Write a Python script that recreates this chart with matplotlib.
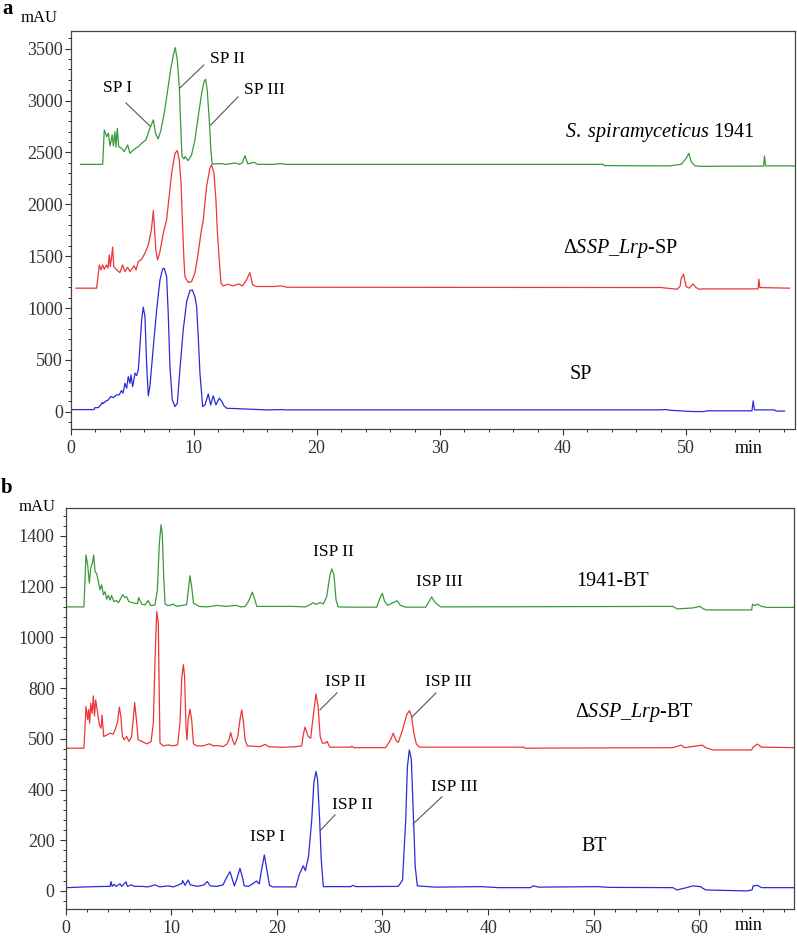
import matplotlib
matplotlib.use("Agg")
import matplotlib.pyplot as plt
from matplotlib.ticker import MultipleLocator

plt.rcParams['font.family'] = ['Liberation Serif', 'DejaVu Serif']
plt.rcParams['mathtext.fontset'] = 'custom'
plt.rcParams['mathtext.rm'] = 'Liberation Serif'
plt.rcParams['mathtext.it'] = 'Liberation Serif:italic'

#*****************************************
# Panel a : traces (time in min, signal in mAU)
#*****************************************
tGreenA = [0.8, 2.6, 2.73, 2.93, 3.06, 3.2, 3.38, 3.47, 3.6, 3.68, 3.79, 3.9, 4.14, 4.36, 4.63, 4.82,
           5.09, 5.5, 5.77, 6.12, 6.39, 6.72, 6.9, 7.1, 7.31, 7.58, 7.85, 8.12, 8.35, 8.5, 8.67, 8.83,
           8.94, 9.05, 9.21, 9.3, 9.56, 9.83, 10.1, 10.37, 10.65, 10.84, 10.97, 11.1, 11.27, 11.4, 11.5,
           12.3, 12.6, 13.4, 13.7, 13.95, 14.17, 14.4, 14.9, 15.2, 16.5, 17.1, 17.5, 43.3, 43.4, 48.7,
           49.65, 50.06, 50.27, 50.45, 50.73, 51.1, 56.34, 56.42, 56.5, 58.85]
vGreenA = [2385, 2385, 2717, 2652, 2685, 2563, 2669, 2563, 2700, 2550, 2733, 2556, 2540, 2508, 2572, 2492,
           2524, 2556, 2588, 2620, 2717, 2813, 2685, 2630, 2700, 2861, 3070, 3295, 3439, 3510, 3391, 3134,
           2781, 2460, 2437, 2460, 2421, 2476, 2620, 2845, 3070, 3182, 3205, 3102, 2813, 2524, 2389,
           2392, 2385, 2398, 2385, 2400, 2469, 2390, 2405, 2385, 2385, 2392, 2385, 2385, 2373, 2370,
           2386, 2444, 2492, 2412, 2373, 2366, 2368, 2466, 2370, 2370]

tRedA = [0.43, 2.11, 2.33, 2.46, 2.6, 2.73, 2.92, 3.03, 3.14, 3.22, 3.33, 3.41, 3.5, 3.74, 4.0, 4.22,
         4.41, 4.63, 4.82, 5.15, 5.31, 5.5, 5.77, 6.04, 6.31, 6.56, 6.72, 6.82, 6.92, 7.07, 7.26, 7.53,
         7.8, 8.21, 8.48, 8.67, 8.83, 8.97, 9.1, 9.21, 9.29, 9.56, 9.83, 10.1, 10.37, 10.59, 10.78, 11.05,
         11.32, 11.46, 11.65, 11.81, 11.92, 12.08, 12.22, 12.4, 12.81, 13.2, 13.66, 13.96, 14.3, 14.57,
         14.79, 15.12, 16.5, 17.1, 17.6, 48.0, 49.3, 49.55, 49.65, 49.84, 50.05, 50.3, 50.6, 50.85, 51.1,
         51.4, 55.9, 55.96, 56.04, 58.45]
vRedA = [1192, 1192, 1416, 1368, 1416, 1374, 1416, 1384, 1512, 1400, 1496, 1587, 1400, 1368, 1342, 1416,
         1352, 1394, 1352, 1407, 1368, 1448, 1471, 1529, 1609, 1753, 1939, 1753, 1561, 1464, 1544, 1722,
         1850, 2300, 2492, 2518, 2428, 2203, 1785, 1464, 1303, 1246, 1256, 1336, 1529, 1722, 1850, 2171,
         2348, 2380, 2300, 2042, 1753, 1464, 1240, 1214, 1230, 1214, 1233, 1214, 1272, 1342,
         1224, 1208, 1208, 1214, 1201, 1198, 1182, 1208, 1288, 1326, 1207, 1192, 1233, 1198, 1182,
         1185, 1185, 1278, 1198, 1192]

tBlueA = [0.08, 1.9, 1.98, 2.25, 2.44, 2.57, 2.65, 2.79, 3.06, 3.25, 3.47, 3.74, 3.95, 4.12, 4.26, 4.41,
          4.55, 4.68, 4.82, 4.9, 5.04, 5.23, 5.36, 5.5, 5.63, 5.77, 5.9, 6.04, 6.17, 6.31, 6.44, 6.72,
          6.99, 7.26, 7.47, 7.6, 7.8, 7.93, 8.07, 8.26, 8.48, 8.67, 8.88, 9.15, 9.43, 9.7, 9.89, 10.1,
          10.24, 10.37, 10.51, 10.73, 10.92, 11.19, 11.38, 11.59, 11.81, 12.08, 12.3, 12.45, 12.68, 13.77,
          15.9, 17.2, 17.4, 47.7, 48.4, 48.8, 50.6, 51.5, 51.7, 55.4, 55.5, 55.6, 57.2, 57.4, 58.05]
vBlueA = [22, 22, 41, 41, 67, 90, 80, 99, 116, 148, 138, 164, 164, 205, 180, 276,
          228, 340, 276, 356, 244, 373, 350, 405, 629, 886, 1009, 918, 469, 154, 244, 629,
          983, 1272, 1375, 1385, 1304, 951, 437, 116, 51, 83, 405, 790, 1063, 1169, 1175, 1111,
          1014, 725, 373, 51, 67, 173, 67, 154, 67, 132, 100, 60, 35, 30,
          19, 22, 19, 19, 22, 15, 3, 3, 10, 10, 106, 19, 19, 8, 8]

#*****************************************
# Panel b
#*****************************************
tGreenB = [0.03, 1.73, 1.92, 2.08, 2.24, 2.37, 2.53, 2.65, 2.78, 2.94, 3.1, 3.25, 3.41, 3.57, 3.72, 3.88,
           4.04, 4.2, 4.34, 4.56, 4.78, 5.0, 5.4, 5.6, 5.78, 5.97, 6.46, 6.8, 6.91, 7.2, 7.5, 7.82, 8.04,
           8.46, 8.68, 8.87, 9.03, 9.15, 9.28, 9.41, 9.72, 10.2, 10.5, 11.3, 11.45, 11.6, 11.77, 11.93,
           12.1, 12.4, 12.6, 13.4, 14.3, 15.2, 16.1, 16.6, 17.0, 17.3, 17.67, 17.9, 18.1, 19.6, 21.5,
           22.7, 23.1, 23.45, 23.7, 24.08, 24.4, 24.72, 25.03, 25.2, 25.4, 25.6, 25.8, 26.9, 29.45,
           29.76, 29.98, 30.2, 30.5, 30.8, 31.4, 31.7, 32.2, 34.1, 34.4, 34.65, 35.0, 35.5, 57.5, 57.9,
           59.4, 60.06, 60.4, 60.7, 64.96, 65.05, 65.25, 65.5, 65.9, 66.4, 69.0]
vGreenB = [1120, 1120, 1325, 1286, 1214, 1273, 1293, 1325, 1260, 1250, 1220, 1187, 1207, 1168, 1180, 1151,
           1165, 1147, 1165, 1141, 1145, 1137, 1168, 1157, 1160, 1141, 1135, 1133, 1157, 1131, 1128, 1145, 1125,
           1128, 1187, 1372, 1444, 1404, 1240, 1131, 1125, 1131, 1122, 1128, 1128, 1180, 1243, 1200,
           1135, 1128, 1122, 1120, 1126, 1122, 1126, 1120, 1122, 1141, 1178, 1150, 1122, 1122, 1122,
           1120, 1128, 1137, 1130, 1137, 1132, 1161, 1247, 1270, 1247, 1148, 1120, 1119, 1119,
           1155, 1174, 1142, 1126, 1133, 1144, 1126, 1119, 1119, 1141, 1159, 1137, 1120, 1122, 1112,
           1116, 1122, 1112, 1108, 1108, 1131, 1125, 1131, 1122, 1118, 1118]

tRedB = [0.03, 1.73, 1.92, 2.08, 2.17, 2.27, 2.37, 2.5, 2.62, 2.73, 2.84, 3.03, 3.19, 3.35, 3.44, 3.6,
         3.9, 4.2, 4.5, 4.72, 4.92, 5.08, 5.22, 5.37, 5.53, 5.77, 5.98, 6.22, 6.4, 6.53, 6.66, 6.87,
         7.24, 7.7, 8.08, 8.3, 8.46, 8.62, 8.77, 8.85, 8.93, 9.24, 9.72, 10.1, 10.6, 10.82, 10.98,
         11.14, 11.26, 11.39, 11.48, 11.6, 11.77, 11.93, 12.1, 12.4, 13.0, 13.6, 14.0, 14.5, 14.9,
         15.3, 15.5, 15.62, 15.8, 16.0, 16.3, 16.5, 16.67, 16.83, 16.99, 17.2, 18.4, 18.9, 19.2,
         20.5, 21.8, 22.35, 22.5, 22.66, 22.97, 23.2, 23.4, 23.7, 23.9, 24.1, 24.3, 24.6, 24.75,
         25.0, 27.0, 27.1, 27.3, 30.3, 30.77, 31.02, 31.3, 31.5, 31.9, 32.29, 32.54, 32.75, 32.97,
         33.2, 33.5, 43.4, 43.5, 57.5, 58.3, 58.6, 60.3, 60.6, 61.3, 64.96, 65.1, 65.5, 65.9, 69.0]
vRedB = [563, 563, 727, 675, 715, 662, 740, 700, 769, 690, 753, 700, 655, 642, 694, 609,
         615, 622, 618, 640, 668, 725, 690, 609, 596, 609, 590, 605, 675, 743, 690, 596,
         589, 580, 589, 662, 911, 1102, 1056, 800, 583, 572, 576, 572, 576, 662, 832,
         892, 846, 648, 596, 675, 717, 675, 580, 572, 572, 580, 572, 573, 569,
         580, 602, 625, 596, 576, 609, 675, 714, 668, 596, 572, 569, 578, 569,
         566, 569, 572, 615, 646, 609, 602, 675, 777, 727, 609, 583, 583, 590,
         567, 567, 571, 565, 565, 596, 622, 592, 586, 635, 694, 711, 690, 622,
         580, 567, 567, 563, 565, 575, 565, 575, 565, 556, 556, 567, 579, 567, 565]

tBlueB = [0.03, 1.96, 3.86, 4.2, 4.29, 4.4, 4.6, 4.76, 5.14, 5.3, 5.71, 5.85, 6.2, 6.5, 7.2, 7.8,
          8.46, 8.9, 9.7, 10.2, 10.7, 11.0, 11.08, 11.3, 11.6, 11.8, 12.5, 13.1, 13.41, 13.7, 14.3,
          14.9, 15.2, 15.56, 15.78, 15.97, 16.2, 16.5, 16.72, 16.91, 17.3, 17.7, 18.08, 18.33, 18.55,
          18.81, 19.0, 19.3, 19.6, 21.8, 22.1, 22.5, 22.7, 23.0, 23.3, 23.5, 23.7, 23.85, 24.05, 24.2,
          24.4, 27.0, 27.2, 27.5, 31.5, 31.9, 32.2, 32.36, 32.54, 32.73, 32.92, 33.1, 33.3, 35.0,
          39.3, 41.0, 44.0, 44.3, 44.8, 50.3, 51.5, 57.5, 57.9, 58.8, 59.4, 60.1, 60.6, 64.5, 65.0,
          65.1, 65.5, 65.9, 69.0]
vBlueB = [13, 16, 18, 18, 37, 18, 26, 18, 28, 18, 36, 18, 24, 18, 18, 16,
          24, 16, 20, 16, 24, 30, 41, 22, 43, 24, 18, 24, 37, 20, 18,
          24, 50, 76, 46, 20, 46, 89, 57, 20, 18, 28, 39, 28, 83,
          142, 96, 22, 16, 16, 63, 99, 80, 138, 280, 425, 471, 440, 280, 122,
          17, 17, 22, 17, 18, 43, 280, 490, 556, 520, 306, 96, 20, 15,
          17, 13, 13, 20, 15, 17, 14, 13, 4, 13, 20, 17, 4, 0, 4,
          20, 22, 13, 13]

# tick labels of panel b as printed in the original (600 printed as 500)
yTicksB = [0, 200, 400, 600, 800, 1000, 1200, 1400]
yTickLabelsB = ['0', '200', '400', '500', '800', '1000', '1200', '1400']

green = '#3a9a3a'
red = '#ee3535'
blue = '#2a2ad8'
lineGray = '#555555'
lw = 0.9
tickSize = 13
peakSize = 12.5
nameSize = 14.5

fig = plt.figure(figsize=(7.97, 9.36), dpi=100)
W, H = 797.0, 936.0


def setupAxes(ax, xmax, ylo, yhi, ypad):
    ax.set_xlim(0, xmax)
    ax.set_ylim(ylo, yhi)
    for s in ax.spines.values():
        s.set_color('#444444')
        s.set_linewidth(0.9)
    ax.xaxis.set_major_locator(MultipleLocator(10))
    ax.xaxis.set_minor_locator(MultipleLocator(2))
    ax.tick_params(which='both', direction='out', colors='#333333', labelsize=tickSize)
    ax.tick_params(which='major', length=4, width=0.8)
    ax.tick_params(which='minor', length=2.5, width=0.7)
    ax.tick_params(axis='x', pad=4)
    ax.tick_params(axis='y', pad=ypad)


def leader(ax, x0, y0, x1, y1):
    ax.plot([x0, x1], [y0, y1], color=lineGray, lw=0.8)


# ---------------- panel a ----------------
axA = fig.add_axes([70.7 / W, 1 - 429 / H, (795 - 70.7) / W, (429 - 31) / H])
setupAxes(axA, 58.9, -165, 3670, 1.5)
axA.yaxis.set_major_locator(MultipleLocator(500))
axA.yaxis.set_minor_locator(MultipleLocator(100))
axA.set_xticks([0, 10, 20, 30, 40, 50])

axA.plot(tGreenA, vGreenA, color=green, lw=lw)
axA.plot(tRedA, vRedA, color=red, lw=lw)
axA.plot(tBlueA, vBlueA, color=blue, lw=lw)

axA.text(3.84, 3121, 'SP I', fontsize=peakSize, ha='center', va='center')
axA.text(12.78, 3401, 'SP II', fontsize=peakSize, ha='center', va='center')
axA.text(15.79, 3102, 'SP III', fontsize=peakSize, ha='center', va='center')
leader(axA, 4.49, 2977, 6.44, 2755)
leader(axA, 10.83, 3343, 8.88, 3121)
leader(axA, 13.6, 3035, 11.4, 2765)
axA.text(47.9, 2688, r'$\mathit{S.\ spiramyceticus}$ 1941', fontsize=nameSize, ha='center', va='center')
axA.text(44.7, 1570, r'Δ$\mathit{SSP\_Lrp}$-SP', fontsize=nameSize, ha='center', va='center')
axA.text(41.5, 356, 'SP', fontsize=nameSize, ha='center', va='center')

# ---------------- panel b ----------------
axB = fig.add_axes([65.7 / W, 1 - 908.7 / H, (794.3 - 65.7) / W, (908.7 - 508) / H])
setupAxes(axB, 69.0, -70, 1510, 4)
axB.set_yticks(yTicksB)
axB.set_yticklabels(yTickLabelsB)
axB.yaxis.set_minor_locator(MultipleLocator(40))
axB.set_xticks([0, 10, 20, 30, 40, 50, 60])

axB.plot(tGreenB, vGreenB, color=green, lw=lw)
axB.plot(tRedB, vRedB, color=red, lw=lw)
axB.plot(tBlueB, vBlueB, color=blue, lw=lw)

axB.text(25.4, 1337, 'ISP II', fontsize=peakSize, ha='center', va='center')
axB.text(35.35, 1219, 'ISP III', fontsize=peakSize, ha='center', va='center')
axB.text(51.8, 1219, '1941-BT', fontsize=nameSize, ha='center', va='center')
axB.text(26.45, 824, 'ISP II', fontsize=peakSize, ha='center', va='center')
axB.text(36.2, 824, 'ISP III', fontsize=peakSize, ha='center', va='center')
leader(axB, 25.69, 781, 24.08, 714)
leader(axB, 35.07, 781, 32.79, 686)
axB.text(53.86, 702, r'Δ$\mathit{SSP\_Lrp}$-BT', fontsize=nameSize, ha='center', va='center')
axB.text(19.15, 213, 'ISP I', fontsize=peakSize, ha='center', va='center')
axB.text(27.2, 339, 'ISP II', fontsize=peakSize, ha='center', va='center')
axB.text(36.77, 410, 'ISP III', fontsize=peakSize, ha='center', va='center')
leader(axB, 25.5, 300, 24.08, 237)
leader(axB, 35.63, 371, 32.89, 264)
axB.text(50.03, 174, 'BT', fontsize=nameSize, ha='center', va='center')

# panel letters, units
fig.text(8 / W, 1 - 9 / H, 'a', fontsize=15, fontweight='bold', ha='center', va='center')
fig.text(7 / W, 1 - 488 / H, 'b', fontsize=15, fontweight='bold', ha='center', va='center')
fig.text(39.5 / W, 1 - 18 / H, 'mAU', fontsize=12, ha='center', va='center')
fig.text(37 / W, 1 - 507 / H, 'mAU', fontsize=12, ha='center', va='center')
fig.text(749 / W, 1 - 448 / H, 'min', fontsize=13, ha='center', va='center')
fig.text(749 / W, 1 - 926 / H, 'min', fontsize=13, ha='center', va='center')

fig.savefig('out.png', dpi=100)
